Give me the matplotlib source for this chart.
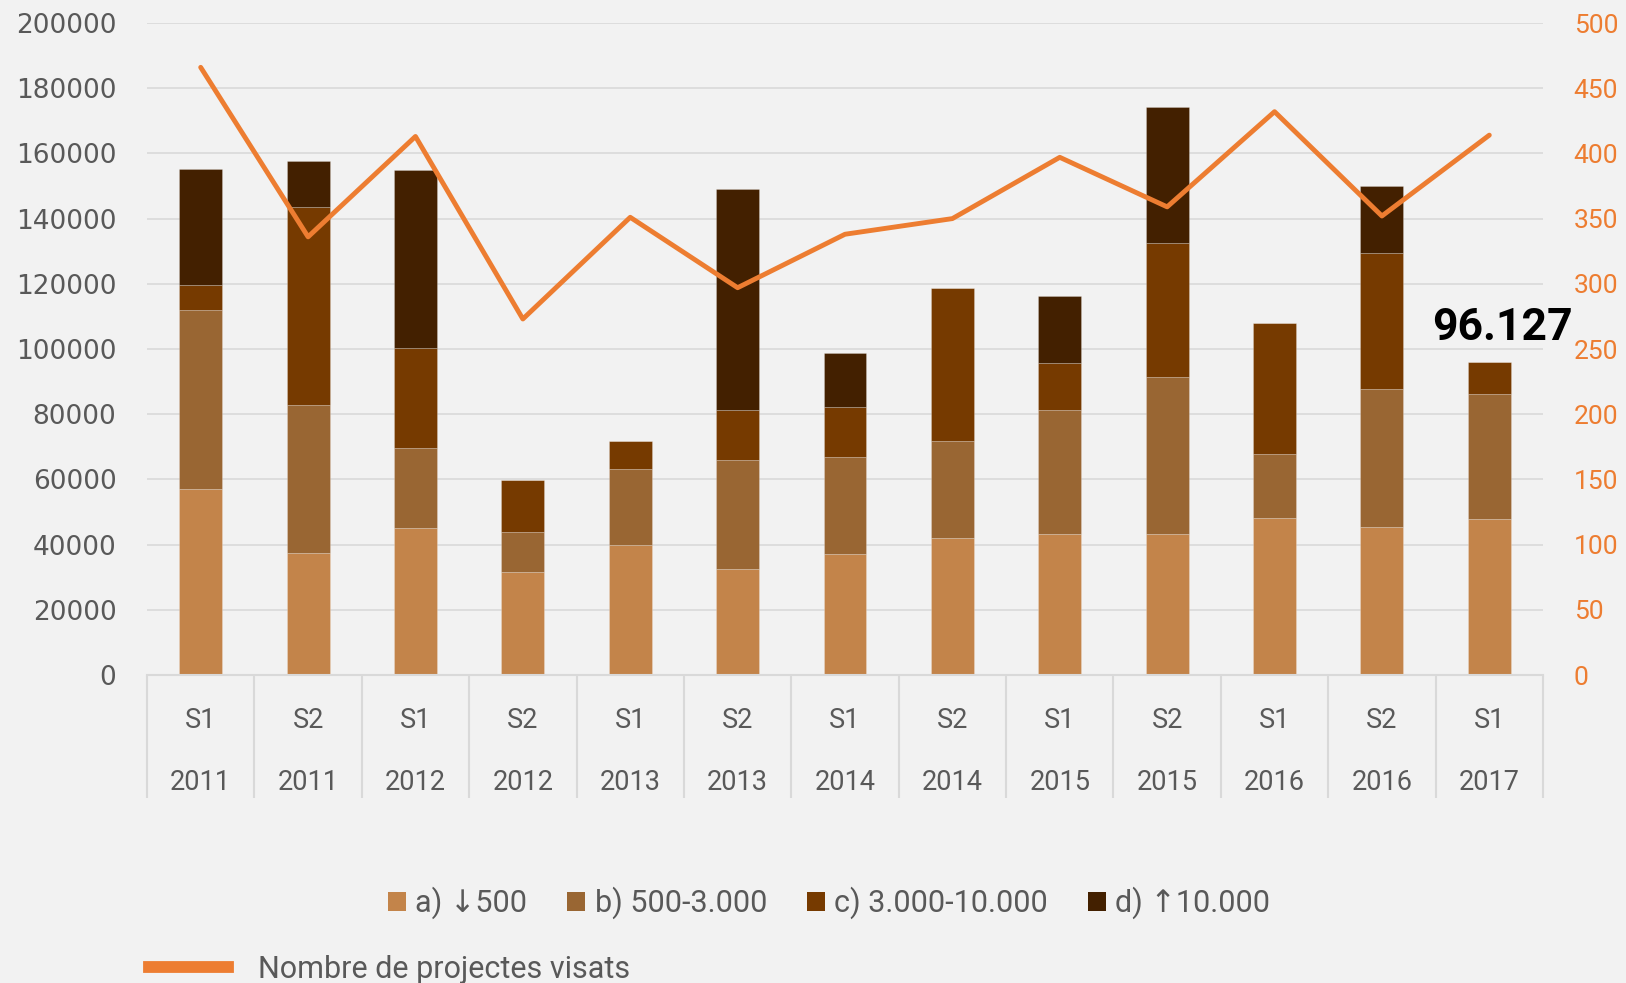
import matplotlib
matplotlib.use("Agg")
import matplotlib.pyplot as plt
from matplotlib.patches import Patch
from matplotlib.lines import Line2D

# Data
semesters = ["S1", "S2", "S1", "S2", "S1", "S2", "S1", "S2", "S1", "S2", "S1", "S2", "S1"]
years = ["2011", "2011", "2012", "2012", "2013", "2013", "2014", "2014",
         "2015", "2015", "2016", "2016", "2017"]
a_lt500 = [57200, 37500, 45100, 31600, 39900, 32500, 37100, 42000, 43200, 43300, 48100, 45500, 47900]
b_500_3000 = [54800, 45300, 24600, 12200, 23400, 33400, 29700, 29700, 38100, 48100, 19700, 42200, 38200]
c_3000_10000 = [7700, 60700, 30500, 16100, 8400, 15400, 15500, 47000, 14400, 41200, 40300, 41600, 10027]
d_gt10000 = [35400, 14100, 54700, 0, 0, 67800, 16600, 0, 20700, 41700, 0, 20600, 0]
projectes = [466, 336, 413, 273, 351, 297, 338, 350, 397, 359, 432, 352, 414]

series_labels = ["a) \u2193500", "b) 500-3.000", "c) 3.000-10.000", "d) \u219110.000"]
line_label = "Nombre de projectes visats"
last_label = "96.127"

colors = ["#C3844A", "#996633", "#763A00", "#432000"]
line_color = "#ED7D31"
bg = "#F2F2F2"
grid_c = "#D9D9D9"
text_c = "#595959"
font = ["Roboto", "DejaVu Sans"]

W, H = 1626, 983
fig = plt.figure(figsize=(W / 100, H / 100), dpi=100, facecolor=bg)
left, right, top, bottom = 147, 1543, 23, 675
ax = fig.add_axes([left / W, 1 - bottom / H, (right - left) / W, (bottom - top) / H])
ax.set_facecolor(bg)

x = list(range(len(years)))
base = [0] * len(x)
for vals, col in zip([a_lt500, b_500_3000, c_3000_10000, d_gt10000], colors):
    ax.bar(x, vals, width=0.4, bottom=base, color=col, zorder=2,
           edgecolor=(1, 1, 1, 0.25), linewidth=0.6)
    base = [b + v for b, v in zip(base, vals)]

ax.set_xlim(-0.5, len(x) - 0.5)
ax.set_ylim(0, 200000)
ax.set_yticks(range(0, 200001, 20000))
ax.set_yticklabels([str(v) for v in range(0, 200001, 20000)], family="DejaVu Sans",
                   fontsize=19, color=text_c)
ax.tick_params(axis="y", length=0, pad=22)
ax.set_xticks([])
ax.grid(True, axis="y", color=grid_c, linewidth=1.2, zorder=0)
ax.set_axisbelow(True)
for s in ["top", "right", "left"]:
    ax.spines[s].set_visible(False)
ax.spines["bottom"].set_color(grid_c)
ax.spines["bottom"].set_linewidth(1.5)

# Two-level category axis with separators
ph = bottom - top
trans = ax.get_xaxis_transform()
sep_bottom = -(798 - bottom) / ph
ax.vlines([i - 0.5 for i in range(len(x) + 1)], sep_bottom, 0, transform=trans,
          color=grid_c, linewidth=1.5, clip_on=False)
for i in x:
    ax.text(i, -(720 - bottom) / ph, semesters[i], transform=trans, ha="center",
            va="center", fontsize=19.5, color=text_c, family=font)
    ax.text(i, -(782 - bottom) / ph, years[i], transform=trans, ha="center",
            va="center", fontsize=19.5, color=text_c, family=font)

# Annotation for the last bar
ax.text(12.12, 106500, last_label, ha="center", va="center", fontsize=32,
        fontweight="bold", color="black", family=font, zorder=5)

# Line on secondary axis
ax2 = ax.twinx()
ax2.plot(x, projectes, color=line_color, linewidth=3.5, solid_capstyle="round",
         solid_joinstyle="round", zorder=4)
ax2.set_ylim(0, 500)
ax2.set_yticks(range(0, 501, 50))
ax2.set_yticklabels([str(v) for v in range(0, 501, 50)], family=font,
                    fontsize=19, color=line_color)
ax2.tick_params(axis="y", length=0, pad=22)
for s in ["top", "right", "left", "bottom"]:
    ax2.spines[s].set_visible(False)

# Legends
bar_handles = [Patch(facecolor=c, edgecolor="none") for c in colors]
fig.legend(bar_handles, series_labels, loc="center", ncol=4,
           bbox_to_anchor=(829 / W, 1 - 903 / H), frameon=False,
           prop={"family": font, "size": 22}, labelcolor=text_c,
           handlelength=0.6, handleheight=0.6, handletextpad=0.3,
           columnspacing=1.3)
line_handle = [Line2D([0], [0], color=line_color, linewidth=8.5)]
fig.legend(line_handle, [line_label], loc="center left",
           bbox_to_anchor=(121 / W, 1 - 969 / H), frameon=False,
           prop={"family": font, "size": 22}, labelcolor=text_c,
           handlelength=2.6, handletextpad=1.0)

fig.savefig("out.png", dpi=100, facecolor=bg)
